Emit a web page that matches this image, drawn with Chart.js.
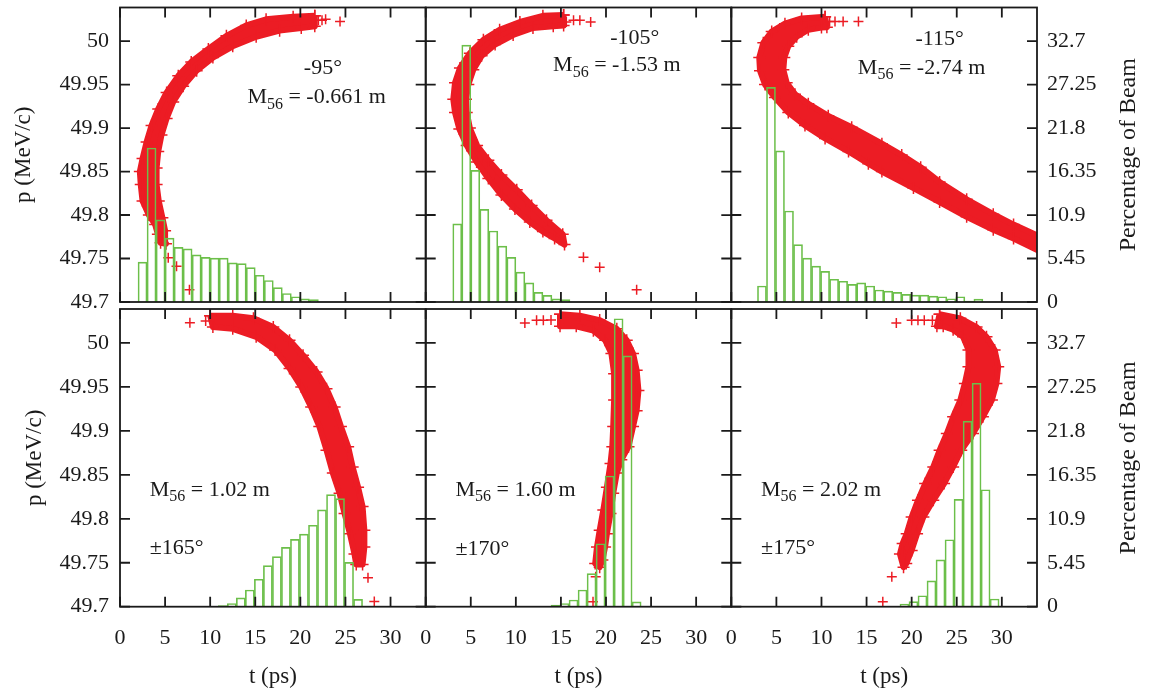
<!DOCTYPE html>
<html>
<head>
<meta charset="utf-8" />
<title>Longitudinal phase space after the chicane</title>
<script src="https://cdn.jsdelivr.net/npm/chart.js@4.4.1/dist/chart.umd.min.js"></script>
<style>
  body { margin: 0; background: #fff; }
  .page { position: relative; width: 1149px; height: 696px; }
  .page canvas { position: absolute; left: 0; top: 0; }
</style>
</head>
<body>
<div class="page">
  <canvas id="panel0" width="1149" height="696"></canvas>
  <canvas id="panel1" width="1149" height="696"></canvas>
  <canvas id="panel2" width="1149" height="696"></canvas>
  <canvas id="panel3" width="1149" height="696"></canvas>
  <canvas id="panel4" width="1149" height="696"></canvas>
  <canvas id="panel5" width="1149" height="696"></canvas>
</div>
<script>
const tTicks = [0, 5, 10, 15, 20, 25, 30];
const tTickLabels = ["0", "5", "10", "15", "20", "25", "30"];
const pTicks = [49.7, 49.75, 49.8, 49.85, 49.9, 49.95, 50];
const pTickLabels = ["49.7", "49.75", "49.8", "49.85", "49.9", "49.95", "50"];
const beamTicks = [0, 5.45, 10.9, 16.35, 21.8, 27.25, 32.7];
const beamTickLabels = ["0", "5.45", "10.9", "16.35", "21.8", "27.25", "32.7"];

const phases = ["-95°", "-105°", "-115°", "±165°", "±170°", "±175°"];
const m56 = ["-0.661", "-1.53", "-2.74", "1.02", "1.60", "2.02"];

// histograms: bin centre (ps) and percentage of beam
const bins95 = [2.5, 3.5, 4.5, 5.5, 6.5, 7.5, 8.5, 9.5, 10.5, 11.5, 12.5, 13.5, 14.5, 15.5, 16.5, 17.5, 18.5, 19.5, 20.5, 21.5];
const pct95 = [5.0, 19.3, 10.3, 8.0, 6.85, 6.65, 5.9, 5.6, 5.5, 5.5, 4.9, 4.8, 4.3, 3.35, 2.7, 1.8, 1.07, 0.66, 0.4, 0.3];
const bins105 = [3.5, 4.5, 5.5, 6.5, 7.5, 8.5, 9.5, 10.5, 11.5, 12.5, 13.5, 14.5, 15.5];
const pct105 = [9.8, 32.2, 16.5, 11.6, 8.9, 7.0, 5.6, 3.75, 2.4, 1.2, 0.83, 0.4, 0.3];
const bins115 = [3.4, 4.4, 5.4, 6.4, 7.4, 8.4, 9.4, 10.4, 11.4, 12.4, 13.4, 14.4, 15.4, 16.4, 17.4, 18.4, 19.4, 20.4, 21.4, 22.4, 23.4, 24.4, 25.4, 26.4, 27.4];
const pct115 = [2.0, 26.9, 18.95, 11.4, 7.2, 5.5, 4.5, 3.84, 2.85, 2.6, 2.2, 2.4, 2.0, 1.5, 1.36, 1.2, 0.95, 0.87, 0.87, 0.74, 0.66, 0.41, 0.66, 0.1, 0.37];
const bins165 = [11.4, 12.4, 13.4, 14.4, 15.4, 16.4, 17.4, 18.4, 19.4, 20.4, 21.4, 22.4, 23.4, 24.4, 25.4, 26.4];
const pct165 = [0.15, 0.4, 1.1, 2.07, 3.4, 5.1, 6.2, 7.35, 8.35, 9.0, 10.1, 12.0, 13.9, 13.4, 5.5, 0.9];
const bins170 = [14.4, 15.4, 16.4, 17.4, 18.4, 19.4, 20.4, 21.4, 22.4, 23.4];
const pct170 = [0.2, 0.4, 0.83, 2.07, 4.1, 7.8, 16.2, 35.7, 31.1, 0.6];
const bins175 = [19.2, 20.2, 21.2, 22.2, 23.2, 24.2, 25.2, 26.2, 27.2, 28.2, 29.2];
const pct175 = [0.33, 0.62, 1.36, 3.2, 5.8, 8.3, 13.3, 23.0, 27.7, 14.5, 0.95];

// dense particle band, traced round its outline as [t (ps), p (MeV/c)]
const band95 = [
  [21.6, 50.029], [19.2, 50.028], [16.2, 50.025], [14.0, 50.018], [11.8, 50.006], [9.8, 49.991],
  [7.9, 49.976], [6.46, 49.96], [5.17, 49.941], [4.24, 49.922], [3.5, 49.903], [2.95, 49.884],
  [2.5, 49.865], [2.2, 49.85], [2.3, 49.835], [2.5, 49.816], [3.2, 49.8], [3.9, 49.789],
  [4.2, 49.778], [4.5, 49.768], [5.1, 49.767], [5.0, 49.782], [4.7, 49.797], [4.3, 49.816],
  [4.06, 49.835], [4.06, 49.854], [4.24, 49.873], [4.6, 49.892], [5.17, 49.911], [5.9, 49.93],
  [7.0, 49.948], [8.5, 49.966], [10.3, 49.981], [12.5, 49.994], [15.1, 50.005], [17.7, 50.012],
  [20.1, 50.015], [21.6, 50.017], [21.6, 50.029]
];
const band105 = [
  [15.3, 50.03], [13.0, 50.029], [10.45, 50.022], [8.2, 50.013], [6.4, 50.0015], [4.9, 49.986],
  [3.8, 49.969], [3.25, 49.952], [3.06, 49.933], [3.25, 49.918], [3.73, 49.899], [4.55, 49.88],
  [5.65, 49.861], [6.95, 49.842], [8.4, 49.823], [9.9, 49.807], [11.55, 49.792], [13.0, 49.781],
  [14.3, 49.773], [15.4, 49.766], [15.2, 49.778], [13.4, 49.794], [11.75, 49.811], [10.1, 49.829],
  [8.4, 49.846], [6.95, 49.863], [5.7, 49.88], [4.9, 49.9], [4.55, 49.918], [4.47, 49.933],
  [4.73, 49.95], [5.28, 49.967], [6.2, 49.983], [7.7, 49.996], [9.7, 50.007], [11.9, 50.015],
  [14.15, 50.017], [15.3, 50.018], [15.3, 50.03]
];
const band115 = [
  [10.4, 50.028], [7.8, 50.026], [5.95, 50.02], [4.48, 50.011], [3.55, 49.998], [3.1, 49.981],
  [3.18, 49.966], [3.74, 49.95], [4.84, 49.935], [6.32, 49.918], [8.17, 49.903], [10.4, 49.888],
  [13.0, 49.873], [15.2, 49.859], [16.7, 49.85], [20.2, 49.831], [23.1, 49.815], [26.1, 49.798],
  [29.05, 49.783], [31.3, 49.773], [34.5, 49.757], [34.5, 49.774], [31.3, 49.789], [29.05, 49.801],
  [26.1, 49.818], [23.1, 49.838], [21.0, 49.855], [18.9, 49.869], [16.7, 49.882], [13.35, 49.901],
  [10.75, 49.914], [8.54, 49.928], [7.06, 49.939], [6.14, 49.952], [5.77, 49.967], [5.88, 49.981],
  [6.32, 49.994], [7.25, 50.005], [8.54, 50.013], [10.0, 50.0155], [10.6, 50.016], [10.4, 50.028]
];
const band165 = [
  [10.0, 50.031], [12.5, 50.031], [14.8, 50.028], [17.0, 50.018], [18.8, 50.003], [20.3, 49.986],
  [21.8, 49.967], [22.9, 49.948], [23.8, 49.927], [24.5, 49.905], [25.3, 49.882], [25.8, 49.859],
  [26.4, 49.836], [26.9, 49.814], [27.1, 49.787], [27.1, 49.768], [26.9, 49.748], [26.2, 49.748],
  [26.0, 49.76], [25.5, 49.783], [24.9, 49.806], [24.35, 49.829], [23.6, 49.852], [22.9, 49.878],
  [22.1, 49.905], [21.2, 49.927], [20.1, 49.95], [18.8, 49.971], [17.2, 49.992], [15.1, 50.007],
  [12.5, 50.016], [10.3, 50.018], [10.0, 50.031]
];
const band170 = [
  [14.9, 50.0326], [17.1, 50.031], [19.3, 50.026], [21.2, 50.016], [22.3, 50.003], [23.0, 49.988],
  [23.4, 49.969], [23.6, 49.946], [23.4, 49.923], [23.0, 49.905], [22.5, 49.882], [21.7, 49.867],
  [21.2, 49.852], [20.8, 49.829], [20.5, 49.806], [20.1, 49.783], [19.9, 49.768], [19.6, 49.753],
  [19.3, 49.745], [18.8, 49.749], [19.0, 49.768], [19.3, 49.787], [19.7, 49.81], [20.1, 49.836],
  [20.5, 49.863], [20.7, 49.882], [20.8, 49.905], [20.9, 49.935], [20.9, 49.965], [20.6, 49.988],
  [19.9, 50.003], [18.6, 50.014], [16.7, 50.019], [14.9, 50.019], [14.9, 50.0326]
];
const band175 = [
  [23.1, 50.0326], [25.4, 50.028], [27.2, 50.018], [28.3, 50.007], [29.2, 49.992], [29.6, 49.973],
  [29.4, 49.954], [28.9, 49.935], [27.9, 49.916], [26.8, 49.897], [25.5, 49.878], [24.6, 49.859],
  [23.6, 49.84], [22.4, 49.821], [21.3, 49.802], [20.6, 49.783], [20.0, 49.764], [19.4, 49.749],
  [19.1, 49.745], [18.7, 49.76], [19.0, 49.772], [19.45, 49.783], [20.0, 49.802], [20.7, 49.821],
  [21.5, 49.84], [22.4, 49.859], [23.1, 49.878], [23.9, 49.897], [24.6, 49.916], [25.4, 49.935],
  [25.9, 49.954], [26.3, 49.973], [26.3, 49.992], [25.7, 50.007], [24.6, 50.015], [23.5, 50.019],
  [22.8, 50.019], [23.1, 50.0326]
];

// isolated particles outside the band
const stray95 = [[22.0, 50.024], [22.4, 50.024], [22.8, 50.025], [24.4, 50.0225], [5.35, 49.751], [6.27, 49.741], [7.7, 49.714]];
const stray105 = [[15.6, 50.022], [16.4, 50.024], [17.1, 50.024], [18.3, 50.022], [17.5, 49.7515], [19.3, 49.74], [23.4, 49.714]];
const stray115 = [
  [10.9, 50.0224], [11.5, 50.0224], [12.4, 50.0224], [14.1, 50.0224],
  [27.6, 49.797], [28.3, 49.795], [30.2, 49.786], [30.9, 49.782], [32.0, 49.776], [32.7, 49.772], [33.7, 49.767]
];
const stray165 = [[7.75, 50.023], [9.5, 50.025], [27.5, 49.733], [28.2, 49.706]];
const stray170 = [[11.0, 50.0227], [12.3, 50.0258], [13.05, 50.0258], [13.9, 50.026], [18.86, 49.734], [18.56, 49.7057]];
const stray175 = [[18.3, 50.0227], [20.0, 50.0258], [20.7, 50.0258], [21.4, 50.0258], [22.3, 50.0258], [17.8, 49.734], [16.8, 49.7057]];

const panels = [
  { bins: bins95, pct: pct95, band: band95, stray: stray95 },
  { bins: bins105, pct: pct105, band: band105, stray: stray105 },
  { bins: bins115, pct: pct115, band: band115, stray: stray115 },
  { bins: bins165, pct: pct165, band: band165, stray: stray165 },
  { bins: bins170, pct: pct170, band: band170, stray: stray170 },
  { bins: bins175, pct: pct175, band: band175, stray: stray175 },
];

// caption anchors in data units
const captionPos = [
  { phase: [22.5, 49.969], m: [21.8, 49.935], align: "center" },
  { phase: [23.2, 50.003], m: [21.2, 49.972], align: "center" },
  { phase: [23.1, 50.002], m: [21.1, 49.969], align: "center" },
  { phase: [3.3, 49.766], m: [3.3, 49.833], align: "left" },
  { phase: [3.3, 49.765], m: [3.3, 49.833], align: "left" },
  { phase: [3.3, 49.766], m: [3.3, 49.833], align: "left" },
];

const W = 1149, H = 696;
const colEdges = [120, 425.7, 731.3, 1037];
const rowEdges = [[4, 302], [309, 606.7]];
const T_MAX = 33.9, P_MIN = 49.7, P_MAX = 50.0386, BEAM_MAX = 36.91;

const RED = "#ec1c24";
const GREEN = "#6cbf4a";
const INK = "#1a1a1a";
const SERIF = "'Liberation Serif', 'Times New Roman', serif";

Chart.defaults.font.family = SERIF;
Chart.defaults.color = INK;

function drawM(ctx, x, y, value, align) {
  const rest = " = " + value + " m";
  ctx.font = "22px " + SERIF;
  const wM = ctx.measureText("M").width;
  const wR = ctx.measureText(rest).width;
  ctx.font = "16px " + SERIF;
  const wS = ctx.measureText("56").width;
  const x0 = align === "center" ? x - (wM + wS + wR) / 2 : x;
  ctx.textAlign = "left";
  ctx.textBaseline = "middle";
  ctx.font = "22px " + SERIF;
  ctx.fillText("M", x0, y);
  ctx.fillText(rest, x0 + wM + wS, y);
  ctx.font = "16px " + SERIF;
  ctx.fillText("56", x0 + wM, y + 7);
}

const framePlugin = {
  id: "frame",
  afterDatasetsDraw(chart, args, opts) {
    const { ctx, chartArea: a } = chart;
    const { x, y, y2 } = chart.scales;
    const i = opts.panel;
    ctx.save();
    ctx.strokeStyle = INK;
    ctx.lineWidth = 1.8;
    ctx.strokeRect(a.left, a.top, a.right - a.left, a.bottom - a.top);
    ctx.beginPath();
    tTicks.forEach((v) => {
      const px = x.getPixelForValue(v);
      ctx.moveTo(px, a.bottom);
      ctx.lineTo(px, a.bottom - 10);
      ctx.moveTo(px, a.top);
      ctx.lineTo(px, a.top + 10);
    });
    pTicks.forEach((v) => {
      const py = y.getPixelForValue(v);
      ctx.moveTo(a.left, py);
      ctx.lineTo(a.left + 10, py);
    });
    beamTicks.forEach((v) => {
      const py = y2.getPixelForValue(v);
      ctx.moveTo(a.right, py);
      ctx.lineTo(a.right - 10, py);
    });
    ctx.stroke();

    ctx.fillStyle = INK;
    const c = captionPos[i];
    ctx.font = "22px " + SERIF;
    ctx.textAlign = c.align;
    ctx.textBaseline = "middle";
    ctx.fillText(phases[i], x.getPixelForValue(c.phase[0]), y.getPixelForValue(c.phase[1]));
    drawM(ctx, x.getPixelForValue(c.m[0]), y.getPixelForValue(c.m[1]), m56[i], c.align);

    if (i % 3 === 2) {
      ctx.translate(y2.right - 20, (a.top + a.bottom) / 2);
      ctx.rotate(-Math.PI / 2);
      ctx.font = "24px " + SERIF;
      ctx.textAlign = "center";
      ctx.fillText("Percentage of Beam", 0, 0);
    }
    ctx.restore();
  },
};

function buildPanel(i) {
  const d = panels[i];
  const col = i % 3;
  const row = Math.floor(i / 3);
  const left = colEdges[col];
  const right = colEdges[col + 1];
  const [top, bottom] = rowEdges[row];
  const showY = col === 0;
  const showY2 = col === 2;
  const showX = row === 1;

  return new Chart(document.getElementById("panel" + i), {
    type: "scatter",
    data: {
      datasets: [
        {
          type: "bar",
          data: d.bins.map((b, k) => ({ x: b, y: d.pct[k] })),
          yAxisID: "y2",
          borderColor: GREEN,
          backgroundColor: "rgba(0,0,0,0)",
          borderWidth: 1,
          barPercentage: 1,
          categoryPercentage: 1,
          order: 0,
        },
        {
          data: d.band.map(([t, p]) => ({ x: t, y: p })),
          yAxisID: "y",
          showLine: true,
          fill: "shape",
          backgroundColor: RED,
          borderColor: RED,
          borderWidth: 6,
          borderJoinStyle: "round",
          pointStyle: "cross",
          pointRadius: 6,
          pointBorderWidth: 1.5,
          pointBorderColor: RED,
          order: 1,
        },
        {
          data: d.stray.map(([t, p]) => ({ x: t, y: p })),
          yAxisID: "y",
          pointStyle: "cross",
          pointRadius: 5,
          pointBorderWidth: 1.5,
          pointBorderColor: RED,
          order: 1,
        },
      ],
    },
    options: {
      responsive: false,
      animation: false,
      events: [],
      devicePixelRatio: 1,
      layout: {
        padding: {
          left: showY ? 0 : left,
          right: showY2 ? 0 : W - right,
          top: top,
          bottom: showX ? 0 : H - bottom,
        },
      },
      plugins: {
        legend: { display: false },
        tooltip: { enabled: false },
        frame: { panel: i },
      },
      scales: {
        x: {
          type: "linear",
          min: 0,
          max: T_MAX,
          offset: false,
          display: showX,
          grid: { display: false, drawTicks: false },
          border: { display: false },
          ticks: { font: { size: 22 }, padding: 18, maxRotation: 0, callback: (v, k) => tTickLabels[k] },
          title: { display: true, text: "t (ps)", font: { size: 23 }, padding: { top: 0, bottom: 5 } },
          afterBuildTicks: (s) => { s.ticks = tTicks.map((v) => ({ value: v })); },
          afterFit: (s) => {
            if (!showX) return;
            s.height = H - bottom; s.paddingLeft = 0; s.paddingRight = 0;
          },
        },
        y: {
          type: "linear",
          position: "left",
          min: P_MIN,
          max: P_MAX,
          display: showY,
          grid: { display: false, drawTicks: false },
          border: { display: false },
          ticks: { font: { size: 22 }, padding: 11, callback: (v, k) => pTickLabels[k] },
          title: { display: true, text: "p (MeV/c)", font: { size: 23 }, padding: { top: row ? 21 : 10, bottom: 0 } },
          afterBuildTicks: (s) => { s.ticks = pTicks.map((v) => ({ value: v })); },
          afterFit: (s) => {
            if (!showY) return;
            s.width = left; s.paddingTop = 0; s.paddingBottom = 0;
          },
        },
        y2: {
          type: "linear",
          position: "right",
          min: 0,
          max: BEAM_MAX,
          display: showY2,
          grid: { display: false, drawTicks: false },
          border: { display: false },
          ticks: { font: { size: 22 }, padding: 10, callback: (v, k) => beamTickLabels[k] },
          afterBuildTicks: (s) => { s.ticks = beamTicks.map((v) => ({ value: v })); },
          afterFit: (s) => {
            if (!showY2) return;
            s.width = W - right; s.paddingTop = 0; s.paddingBottom = 0;
          },
        },
      },
    },
    plugins: [framePlugin],
  });
}

panels.forEach((p, i) => buildPanel(i));
</script>
</body>
</html>
